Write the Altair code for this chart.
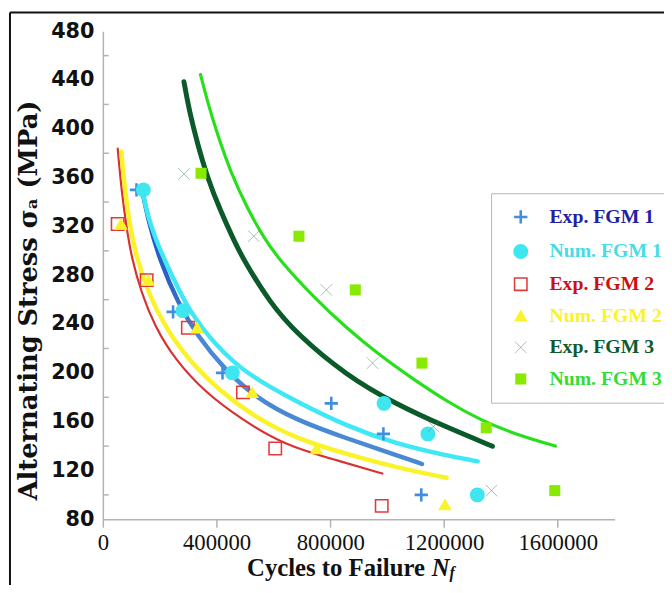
import altair as alt
import pandas as pd

# ---------------- data ----------------
series = ["Exp. FGM 1", "Num. FGM 1", "Exp. FGM 2", "Num. FGM 2", "Exp. FGM 3", "Num. FGM 3"]

exp1_x = [118300, 247000, 420900, 803500, 986800, 1120000]
exp1_y = [350, 250, 200, 175, 150, 100]
num1_x = [142600, 281700, 455700, 988900, 1143300, 1317200]
num1_y = [350, 251, 200, 175, 150, 100]
exp2_x = [52200, 154100, 299100, 492900, 606300, 980900]
exp2_y = [322, 276, 237, 184, 138, 91]
num2_x = [63700, 160000, 331500, 525200, 751300, 1203500]
num2_y = [322, 276, 237, 184, 138, 92]
exp3_x = [285200, 531100, 786100, 948500, 1162800, 1367000]
exp3_y = [363, 312, 268, 208, 156, 103.5]
num3_x = [345400, 689700, 888000, 1122400, 1348500, 1589600]
num3_y = [363.6, 312, 268, 208, 155, 103.5]

# fitted curves
fit_exp1_x = [135700, 160000, 200700, 264300, 333900, 426800, 542600, 681700, 855700, 1029600, 1122500]
fit_exp1_y = [352.9, 324.5, 292.1, 257.3, 229.8, 203.1, 178.8, 161.2, 146.4, 132.9, 125.3]
fit_num1_x = [139100, 153000, 183300, 218100, 287700, 368700, 483500, 587800, 681700, 855700, 1029600, 1203500, 1318300]
fit_num1_y = [350.4, 332.6, 310.8, 292.1, 257.3, 229.8, 203.1, 188.5, 176.4, 156.5, 142, 132.5, 127.5]
fit_exp2_x = [52200, 67100, 83500, 100900, 135700, 183300, 252900, 357200, 483500, 635500, 831300, 983300]
fit_exp2_y = [383.9, 346.4, 318.9, 294.6, 265.4, 237.9, 211.2, 184.5, 162.6, 141, 127.8, 117.5]
fit_num2_x = [65000, 79000, 96300, 118300, 160000, 218100, 299100, 413900, 542600, 681700, 855700, 1029600, 1209400]
fit_num2_y = [381.2, 346.4, 318.9, 294.6, 265.4, 237.9, 211.2, 184.5, 162.6, 146, 133.5, 122.5, 114]
fit_exp3_x = [285200, 305000, 333900, 368700, 413900, 461600, 496300, 587800, 681700, 855700, 1029600, 1203500, 1370400]
fit_exp3_y = [438.7, 413.6, 386.9, 359.4, 332.6, 308.3, 292.1, 257.5, 232.0, 198.0, 174.5, 156.0, 139.9]
fit_num3_x = [343300, 368700, 403500, 448700, 507800, 565900, 622600, 739800, 855700, 970400, 1087700, 1213900, 1331100, 1447000, 1592000]
fit_num3_y = [444.6, 421.7, 395, 365, 335, 310.8, 292.0, 262.4, 237.0, 215.0, 195.5, 176.0, 161.0, 150.0, 140]

x_ticks = [0, 400000, 800000, 1200000, 1600000]
y_labels = [80, 120, 160, 200, 240, 280, 320, 360, 400, 440, 480]
y_minor = [100, 140, 180, 220, 260, 300, 340, 380, 420, 460]

# ---------------- styling ----------------
PLUS = "M-1,0L1,0M0,-1L0,1"
CROSS = "M-1,-1L1,1M-1,1L1,-1"
shapes = [PLUS, "circle", "square", "triangle-up", CROSS, "square"]
strokes = ["#3f8ee0", "#3fe6f0", "#e03a3a", "#fbf32a", "#4f8a65", "#88ea00"]
fills = ["transparent", "#3fe6f0", "transparent", "#fbf32a", "transparent", "#88ea00"]
sizes = [180, 125, 130, 95, 260, 80]
swidths = [2.6, 0, 2.6, 0, 1.3, 0]
label_colors = ["#2020a0", "#48dbe6", "#cc1010", "#fbf32a", "#0d5a2e", "#33dd33"]

W, H = 518, 494

pts = []
for name, xs, ys in [
    (series[0], exp1_x, exp1_y), (series[1], num1_x, num1_y),
    (series[2], exp2_x, exp2_y), (series[3], num2_x, num2_y),
    (series[4], exp3_x, exp3_y), (series[5], num3_x, num3_y)]:
    for a, b in zip(xs, ys):
        pts.append({"series": name, "cycles": a, "stress": b})
pts = pd.DataFrame(pts)

x_enc = alt.X("cycles:Q",
              scale=alt.Scale(domain=[0, 1800000], nice=False, zero=False),
              axis=alt.Axis(title=None, values=x_ticks, format="d", grid=False,
                            domainColor="#b3b3b3", domainWidth=1.5,
                            tickColor="#b3b3b3", tickWidth=1.5, tickSize=8,
                            labelFont="Liberation Serif", labelFontSize=23,
                            labelColor="#111111", labelPadding=5,
                            labelFlush=False, labelOverlap=False))
y_enc = alt.Y("stress:Q",
              scale=alt.Scale(domain=[80, 480], nice=False, zero=False),
              axis=alt.Axis(title="Alternating Stress σₐ (MPa)", values=y_labels,
                            grid=False, ticks=False,
                            domainColor="#b3b3b3", domainWidth=1.5,
                            labelFont="DejaVu Sans", labelFontSize=21,
                            labelFontWeight="bold", labelColor="#111111",
                            labelPadding=9, labelOverlap=False, labelFlush=False,
                            titleFont="DejaVu Serif", titleFontSize=26,
                            titleFontWeight="bold", titleColor="#111111",
                            titleAngle=270, titleAlign="center",
                            titleBaseline="alphabetic", titleX=-67, titleY=272))

expr = "".join(
    f"datum.label == '{s}' ? '{c}' : " for s, c in zip(series, label_colors)
) + "'black'"

leg = alt.Legend(title=None, orient="none", legendX=393, legendY=164,
                 fillColor="white", strokeColor="#b5b5b5", padding=14,
                 rowPadding=12, labelFont="Liberation Serif", labelFontSize=20,
                 labelFontWeight="bold", labelColor=alt.ExprRef(expr),
                 labelOffset=19, symbolOffset=6, labelLimit=400)

layers = []

line_specs = [
    (fit_num3_x, fit_num3_y, "#26e01c", 3.2),
    (fit_exp3_x, fit_exp3_y, "#0b5a2a", 5),
    (fit_exp2_x, fit_exp2_y, "#d93030", 2.2),
    (fit_num2_x, fit_num2_y, "#fbf32a", 4.5),
    (fit_exp1_x, fit_exp1_y,
     alt.LinearGradient(gradient="linear",
                        stops=[alt.GradientStop(color="#1a50bf", offset=0),
                               alt.GradientStop(color="#2b63c6", offset=0.35),
                               alt.GradientStop(color="#4a88d4", offset=0.55),
                               alt.GradientStop(color="#4a88d4", offset=1)],
                        x1=0, x2=0, y1=0, y2=1), 4.5),
    (fit_num1_x, fit_num1_y, "#40e8f5", 4.5),
]
for xs, ys, col, w in line_specs:
    df = pd.DataFrame({"cycles": xs, "stress": ys})
    layers.append(alt.Chart(df).mark_line(color=col, strokeWidth=w,
                                          interpolate="basis",
                                          strokeCap="round").encode(x=x_enc, y=y_enc))

minor = pd.DataFrame({"stress": y_minor})
layers.append(alt.Chart(minor).mark_rule(color="#b3b3b3", strokeWidth=1.5).encode(
    y=y_enc, x=alt.value(0), x2=alt.value(6)))

layers.append(alt.Chart(pts).mark_point(filled=True, opacity=1).encode(
    x=x_enc, y=y_enc,
    shape=alt.Shape("series:N", scale=alt.Scale(domain=series, range=shapes), legend=leg),
    stroke=alt.Stroke("series:N", scale=alt.Scale(domain=series, range=strokes), legend=leg),
    fill=alt.Fill("series:N", scale=alt.Scale(domain=series, range=fills), legend=leg),
    size=alt.Size("series:N", scale=alt.Scale(domain=series, range=sizes), legend=leg),
    strokeWidth=alt.StrokeWidth("series:N", scale=alt.Scale(domain=series, range=swidths), legend=leg),
))

one = pd.DataFrame({"k": [0]})
# figure frame (left and top border of the original figure)
layers.append(alt.Chart(one).mark_rule(color="#111111", strokeWidth=2).encode(
    x=alt.value(-94), y=alt.value(-19), y2=alt.value(700)))
layers.append(alt.Chart(one).mark_rule(color="#111111", strokeWidth=2).encode(
    y=alt.value(-19), x=alt.value(-94), x2=alt.value(900)))

# x axis title: Cycles to Failure N_f
layers.append(alt.Chart(one).mark_text(font="Liberation Serif", fontSize=25,
                                       fontWeight="bold", align="left",
                                       baseline="alphabetic", color="#111111").encode(
    x=alt.value(146), y=alt.value(551), text=alt.value("Cycles to Failure")))
layers.append(alt.Chart(one).mark_text(font="Liberation Serif", fontSize=25,
                                       fontWeight="bold", fontStyle="italic",
                                       align="left", baseline="alphabetic",
                                       color="#111111").encode(
    x=alt.value(333), y=alt.value(551), text=alt.value("N")))
layers.append(alt.Chart(one).mark_text(font="Liberation Serif", fontSize=16,
                                       fontWeight="bold", fontStyle="italic",
                                       align="left", baseline="alphabetic",
                                       color="#111111").encode(
    x=alt.value(351), y=alt.value(553), text=alt.value("f")))

chart = alt.layer(*layers).properties(
    width=W, height=H,
    autosize=alt.AutoSizeParams(type="none"),
    padding={"left": 96, "top": 20, "right": 50, "bottom": 63},
    background="white",
).configure_view(stroke=None)

chart.save("out.html", embed_options={"renderer": "svg", "actions": False})
